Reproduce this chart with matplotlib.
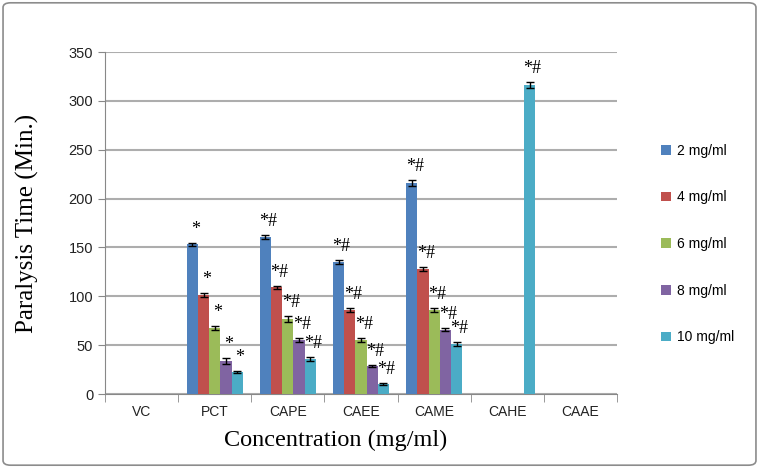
import matplotlib
matplotlib.use("Agg")
import matplotlib.pyplot as plt
import numpy as np
from matplotlib.patches import FancyBboxPatch

categories = ["VC", "PCT", "CAPE", "CAEE", "CAME", "CAHE", "CAAE"]
series_names = ["2 mg/ml", "4 mg/ml", "6 mg/ml", "8 mg/ml", "10 mg/ml"]
values = {
    "2 mg/ml":  [0, 153, 161, 135, 216, 0, 0],
    "4 mg/ml":  [0, 101, 109, 86, 128, 0, 0],
    "6 mg/ml":  [0, 68, 77, 55, 86, 0, 0],
    "8 mg/ml":  [0, 34, 55, 29, 66, 0, 0],
    "10 mg/ml": [0, 23, 36, 10, 51, 316, 0],
}
errors = {
    "2 mg/ml":  [0, 2, 2, 2, 3, 0, 0],
    "4 mg/ml":  [0, 2, 2, 2, 2, 0, 0],
    "6 mg/ml":  [0, 2, 3, 2, 2, 0, 0],
    "8 mg/ml":  [0, 3, 2, 1, 2, 0, 0],
    "10 mg/ml": [0, 1, 2, 1, 2, 3, 0],
}
labels = {
    "2 mg/ml":  ["", "*", "*#", "*#", "*#", "", ""],
    "4 mg/ml":  ["", "*", "*#", "*#", "*#", "", ""],
    "6 mg/ml":  ["", "*", "*#", "*#", "*#", "", ""],
    "8 mg/ml":  ["", "*", "*#", "*#", "*#", "", ""],
    "10 mg/ml": ["", "*", "*#", "*#", "*#", "*#", ""],
}
colors = ["#4F81BD", "#C0504D", "#9BBB59", "#8064A2", "#4BACC6"]

fig = plt.figure(figsize=(7.59, 4.68), dpi=100)
ax = fig.add_axes([105/759, 1-394/468, 512/759, 342/468])

x = np.arange(len(categories))
bw = 0.153
for i, s in enumerate(series_names):
    pos = x + (i - 2) * bw
    vals = np.array(values[s])
    errs = np.array(errors[s])
    ax.bar(pos, vals, bw, color=colors[i], label=s, zorder=3)
    mask = vals > 0
    ax.errorbar(pos[mask], vals[mask], yerr=errs[mask], fmt="none",
                ecolor="black", elinewidth=1, capsize=3, capthick=1, zorder=4)
    for p, v, e, lab in zip(pos, vals, errs, labels[s]):
        if lab:
            ax.text(p + 0.04, v + e + 5, lab, ha="center", va="bottom",
                    fontsize=13, family="Liberation Serif", zorder=5)

ax.set_xlim(-0.5, len(categories) - 0.5)
ax.set_ylim(0, 350)
ax.set_yticks(np.arange(0, 351, 50))
ax.yaxis.grid(True, color="#ADADAD", linewidth=1.5, zorder=0)
ax.set_axisbelow(True)
for sp in ["top", "right"]:
    ax.spines[sp].set_visible(False)
ax.spines["left"].set_color("#888888")
ax.spines["bottom"].set_color("#888888")
ax.tick_params(axis="y", direction="out", length=5, color="#888888",
               labelsize=10.5, labelcolor="#222222")
ax.set_xticks(x)
ax.set_xticklabels(categories, fontsize=10, family="Liberation Sans", color="#222222")
ax.tick_params(axis="x", length=0, pad=8)
ax.set_xticks(np.arange(-0.5, len(categories), 1), minor=True)
ax.tick_params(axis="x", which="minor", direction="out", length=6, color="#888888")
for t in ax.get_yticklabels():
    t.set_family("Liberation Sans")

ax.set_xlabel("Concentration (mg/ml)", fontsize=17.5, family="Liberation Serif")
ax.xaxis.set_label_coords(0.451, -0.105)
ax.set_ylabel("Paralysis Time (Min.)", fontsize=18, family="Liberation Serif")
ax.yaxis.set_label_coords(-0.128, 0.5)

handles, labs = ax.get_legend_handles_labels()
leg = fig.legend(handles, labs, loc="center left", bbox_to_anchor=(0.855, 1 - 244/468),
                 frameon=False, labelspacing=2.35, handlelength=0.7, handleheight=0.7,
                 handletextpad=0.4, prop={"family": "Liberation Sans", "size": 10})

border = FancyBboxPatch((0.004, 0.006), 0.992, 0.988, boxstyle="round,pad=0,rounding_size=0.01",
                        transform=fig.transFigure, fill=False, edgecolor="#8C8C8C", linewidth=1.2)
fig.patches.append(border)

fig.savefig("out.png", dpi=100)
